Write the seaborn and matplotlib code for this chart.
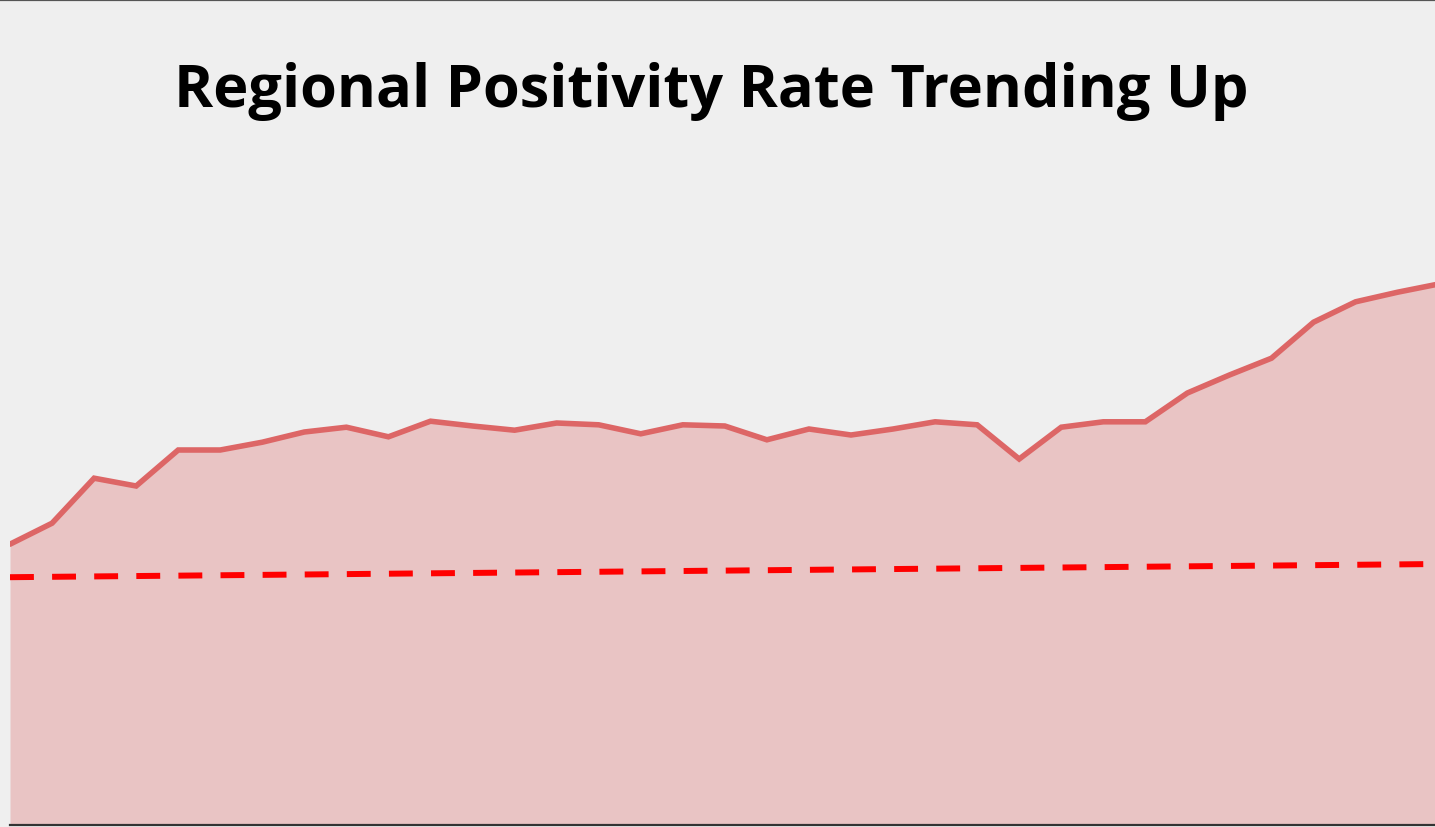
import numpy as np
import pandas as pd
import matplotlib
matplotlib.use("Agg")
import matplotlib.pyplot as plt
from matplotlib.lines import Line2D
import seaborn as sns

# ---- data ----
weeks = list(range(35))
positivity = [4.68, 5.03, 5.78, 5.65, 6.25, 6.25, 6.38, 6.55, 6.63, 6.47,
              6.73, 6.65, 6.58, 6.70, 6.67, 6.52, 6.67, 6.65, 6.42, 6.60,
              6.50, 6.60, 6.72, 6.67, 6.10, 6.63, 6.72, 6.72, 7.20, 7.50,
              7.78, 8.38, 8.72, 8.88, 9.02]
trend_weeks = [0, 34]
trend_values = [4.13, 4.35]
title = "Regional Positivity Rate Trending Up"

df = pd.DataFrame({"week": weeks, "rate": positivity})
tdf = pd.DataFrame({"week": trend_weeks, "rate": trend_values})

sns.set_theme(style="white")
plt.rcParams['font.family'] = ['Open Sans', 'DejaVu Sans']

BG = "#efefef"
fig = plt.figure(figsize=(14.35, 8.28), dpi=100, facecolor=BG)
W, H = 1435, 828
ax = fig.add_axes([10 / W, (H - 826) / H, 1425 / W, 600 / H])
ax.set_facecolor(BG)

ax.fill_between(df["week"], df["rate"], 0, color="#e9c4c4", lw=0, zorder=1)
sns.lineplot(data=df, x="week", y="rate", ax=ax, color="#dd6666", lw=4.0,
             zorder=3, solid_joinstyle="miter")
sns.lineplot(data=tdf, x="week", y="rate", ax=ax, color="#ff0000", lw=4.3,
             zorder=4)
ax.lines[-1].set_dashes((4, 3.05))
ax.lines[-1].set_dash_capstyle("butt")

ax.set_xlim(0, 1425 / 42.05)
ax.set_ylim(0, 10)
ax.set_xticks([])
ax.set_yticks([])
ax.set_xlabel("")
ax.set_ylabel("")
for s in ["top", "right", "left"]:
    ax.spines[s].set_visible(False)
ax.spines["bottom"].set_color("#333333")
ax.spines["bottom"].set_linewidth(1.6)

# top border of the card
fig.add_artist(Line2D([0, 1], [1 - 1 / H, 1 - 1 / H], transform=fig.transFigure,
                      color="#555555", lw=1.6))

# title, fitted to reference width
t = fig.text(711 / W, 1 - 107 / H, title, ha="center", va="baseline",
             fontsize=40, fontweight="bold", color="#000000")
fig.canvas.draw()
bb = t.get_window_extent(renderer=fig.canvas.get_renderer())
t.set_fontsize(40 * 1073 / bb.width)

fig.savefig("out.png", dpi=100, facecolor=BG)
